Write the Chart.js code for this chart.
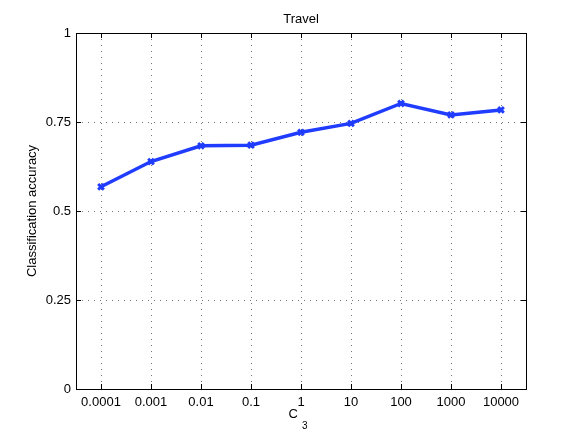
<!DOCTYPE html>
<html>
<head>
<meta charset="utf-8">
<script src="https://cdn.jsdelivr.net/npm/chart.js"></script>
<style>
    html, body { margin: 0; padding: 0; background: #fff; }
    canvas { display: block; }
</style>
</head>
<body>
<canvas id="myChart" width="581" height="437"></canvas>
<script>
// chart data
const categories = ['0.0001', '0.001', '0.01', '0.1', '1', '10', '100', '1000', '10000'];
const accuracy = [0.568, 0.639, 0.683, 0.685, 0.721, 0.746, 0.802, 0.770, 0.784];
const yTickValues = [0, 0.25, 0.5, 0.75, 1];
const yTickLabels = ['0', '0.25', '0.5', '0.75', '1'];
const chartTitle = 'Travel';
const yTitle = 'Classification accuracy';
const xTitle = 'C';
const xTitleSub = '3';

const FONT = '"Liberation Sans", Arial, Helvetica, sans-serif';
const gridColor = 'rgba(70,70,70,0.75)';

// box, inward ticks and titles (MATLAB look)
const matlabAxes = {
    id: 'matlabAxes',
    afterDraw(chart) {
        const ctx = chart.ctx;
        const area = chart.chartArea;
        const x = chart.scales.x;
        const y = chart.scales.y;
        ctx.save();
        ctx.strokeStyle = '#000';
        ctx.lineWidth = 1;
        ctx.beginPath();
        categories.forEach((c, i) => {
            const px = Math.round(x.getPixelForValue(i)) + 0.5;
            ctx.moveTo(px, area.bottom); ctx.lineTo(px, area.bottom - 5);
            ctx.moveTo(px, area.top); ctx.lineTo(px, area.top + 5);
        });
        yTickValues.forEach(v => {
            const py = Math.round(y.getPixelForValue(v)) + 0.5;
            ctx.moveTo(area.left, py); ctx.lineTo(area.left + 5, py);
            ctx.moveTo(area.right, py); ctx.lineTo(area.right - 5, py);
        });
        ctx.stroke();
        ctx.strokeRect(Math.round(area.left) + 0.5, Math.round(area.top) + 0.5,
            Math.round(area.right - area.left), Math.round(area.bottom - area.top));

        ctx.fillStyle = '#000';
        ctx.textAlign = 'center';
        ctx.textBaseline = 'alphabetic';
        ctx.font = '13px ' + FONT;
        const cx = (area.left + area.right) / 2;
        ctx.fillText(chartTitle, cx, 23);

        ctx.textAlign = 'right';
        ctx.fillText(xTitle, cx - 3, 418);
        ctx.textAlign = 'left';
        ctx.font = '10px ' + FONT;
        ctx.fillText(xTitleSub, cx + 1, 429);

        ctx.font = '13px ' + FONT;
        ctx.textAlign = 'center';
        ctx.translate(36, (area.top + area.bottom) / 2);
        ctx.rotate(-Math.PI / 2);
        ctx.fillText(yTitle, 0, 0);
        ctx.restore();
    }
};

new Chart(document.getElementById('myChart').getContext('2d'), {
    type: 'line',
    data: {
        labels: categories,
        datasets: [{
            data: accuracy,
            borderColor: '#1f3cff',
            backgroundColor: '#1f3cff',
            borderWidth: 3.5,
            tension: 0,
            pointStyle: 'crossRot',
            pointRadius: 4,
            pointBorderWidth: 3,
            fill: false
        }]
    },
    options: {
        responsive: false,
        animation: false,
        layout: { padding: { top: 33, right: 55, left: 0, bottom: 0 } },
        plugins: {
            legend: { display: false },
            title: { display: false },
            tooltip: { enabled: false }
        },
        scales: {
            x: {
                type: 'category',
                offset: true,
                afterFit: scale => { scale.height = 48; },
                grid: { color: gridColor, lineWidth: 1, drawTicks: false },
                border: { display: false, dash: [1, 5] },
                ticks: { color: '#000', padding: 6, maxRotation: 0, autoSkip: false, font: { family: FONT, size: 13 } }
            },
            y: {
                min: 0,
                max: 1,
                afterFit: scale => { scale.width = 76; },
                afterBuildTicks: scale => { scale.ticks = yTickValues.map(v => ({ value: v })); },
                grid: { color: gridColor, lineWidth: 1, drawTicks: false },
                border: { display: false, dash: [1, 5] },
                ticks: {
                    color: '#000',
                    padding: 5,
                    font: { family: FONT, size: 13 },
                    callback: (v, i) => yTickLabels[i]
                }
            }
        }
    },
    plugins: [matlabAxes]
});
</script>
</body>
</html>
